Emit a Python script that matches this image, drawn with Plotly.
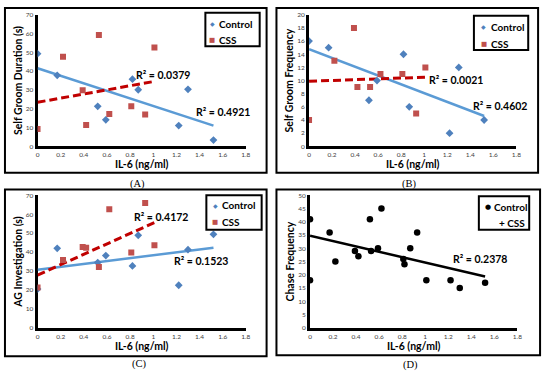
import numpy as np
import plotly.graph_objects as go

# ---------------- data ----------------
il6_control = [0.00, 0.17, 0.52, 0.59, 0.82, 0.87, 1.22, 1.30, 1.52]
il6_css = [0.00, 0.22, 0.39, 0.42, 0.53, 0.62, 0.81, 0.93, 1.01]

groom_dur_control = [49.3, 37.8, 21.3, 14.1, 35.7, 30.1, 11.0, 30.3, 3.3]
groom_dur_css = [9.2, 47.7, 29.8, 11.3, 59.2, 17.2, 21.3, 16.9, 52.6]

groom_freq_control = [16, 15, 7, 10, 14, 6, 2, 12, 4]
groom_freq_css = [4, 13, 18, 9, 9, 11, 11, 5, 12]

ag_control = [20.5, 42.0, 34.5, 38.2, 32.7, 48.9, 22.5, 41.3, 49.4]
ag_css = [21.3, 35.9, 42.7, 42.3, 32.1, 62.6, 39.8, 66.0, 43.7]

chase_control = [41, 36, 41, 30, 24, 30, 18, 15, 17]
chase_css = [18, 25, 29, 27, 29, 45, 26, 36, 18]

r2_labels = {
    "A": ["R² = 0.4921", "R² = 0.0379"],
    "B": ["R² = 0.4602", "R² = 0.0021"],
    "C": ["R² = 0.1523", "R² = 0.4172"],
    "D": ["R² = 0.2378"],
}
y_titles = ["Self Groom Duration (s)", "Self Groom Frequency", "AG Investigation (s)", "Chase Frequency"]
y_ranges = [[0, 70], [0, 20], [0, 70], [0, 50]]
y_dticks = [10, 2, 10, 5]
x_title = "IL-6 (ng/ml)"
panel_labels = ["(A)", "(B)", "(C)", "(D)"]

# ---------------- styling ----------------
W, H = 550, 375
BLUE_M = "#4F81BD"
BLUE_L = "#5B9BD5"
RED_M = "#C0504D"
RED_L = "#C00000"
FONT = "Lato"
TICKC = "#404040"


def px(x):
    return x / W


def py(y):
    return 1 - y / H


fig = go.Figure()

# plot areas in pixels (x0, x1, ytop, ybottom)
areas = [(36, 247, 11, 145), (311, 521, 11, 145), (36, 247, 195, 330), (312, 522, 195, 330)]
boxes = [(3, 4, 268, 172), (278, 4, 543, 172), (3, 189, 268, 359), (278, 189, 545, 358)]

layout = {}
for i, (x0, x1, yt, yb) in enumerate(areas):
    n = "" if i == 0 else str(i + 1)
    layout["xaxis" + n] = dict(
        domain=[px(x0), px(x1)], anchor="y" + n, range=[0, 1.8], dtick=0.2,
        showgrid=False, zeroline=False, showline=True,
        linecolor="black", linewidth=3, ticks="", layer="below traces",
        tickfont=dict(family=FONT, size=6.5, color=TICKC),
        title=dict(text=x_title, font=dict(family=FONT, size=10.5, color="black", weight="bold"), standoff=3),
        fixedrange=True,
    )
    layout["yaxis" + n] = dict(
        domain=[py(yb), py(yt)], anchor="x" + n, range=y_ranges[i], dtick=y_dticks[i],
        showgrid=False, zeroline=False, showline=True, linecolor="black", linewidth=3,
        ticks="", layer="below traces",
        tickfont=dict(family=FONT, size=6.5, color=TICKC),
        title=dict(text=y_titles[i], font=dict(family=FONT, size=10.5, color="black", weight="bold"), standoff=2),
        fixedrange=True,
    )


def trend(x, y):
    x = np.asarray(x, float)
    y = np.asarray(y, float)
    m, b = np.polyfit(x, y, 1)
    xs = np.array([x.min(), x.max()])
    return xs, m * xs + b


panels = [
    (groom_dur_control, groom_dur_css),
    (groom_freq_control, groom_freq_css),
    (ag_control, ag_css),
]
for i, (yc, ys) in enumerate(panels):
    n = "" if i == 0 else str(i + 1)
    xa, ya = "x" + n, "y" + n
    tx, ty = trend(il6_control, yc)
    fig.add_trace(go.Scatter(x=tx, y=ty, mode="lines", line=dict(color=BLUE_L, width=2.5),
                             xaxis=xa, yaxis=ya, showlegend=False, hoverinfo="skip"))
    tx, ty = trend(il6_css, ys)
    fig.add_trace(go.Scatter(x=tx, y=ty, mode="lines", line=dict(color=RED_L, width=3, dash="8px,4px"),
                             xaxis=xa, yaxis=ya, showlegend=False, hoverinfo="skip"))
    fig.add_trace(go.Scatter(x=il6_control, y=yc, mode="markers", name="Control",
                             marker=dict(symbol="diamond", size=6, color=BLUE_M),
                             xaxis=xa, yaxis=ya, showlegend=False))
    fig.add_trace(go.Scatter(x=il6_css, y=ys, mode="markers", name="CSS",
                             marker=dict(symbol="square", size=6, color=RED_M),
                             xaxis=xa, yaxis=ya, showlegend=False))

# panel D: combined
all_x = il6_control + il6_css
all_y = chase_control + chase_css
tx, ty = trend(all_x, all_y)
fig.add_trace(go.Scatter(x=tx, y=ty, mode="lines", line=dict(color="black", width=2.5),
                         xaxis="x4", yaxis="y4", showlegend=False, hoverinfo="skip"))
fig.add_trace(go.Scatter(x=all_x, y=all_y, mode="markers", name="Control + CSS",
                         marker=dict(symbol="circle", size=6.5, color="black"),
                         xaxis="x4", yaxis="y4", showlegend=False))

shapes = []
for (x0, y0, x1, y1) in boxes:
    shapes.append(dict(type="rect", xref="paper", yref="paper", x0=px(x0), x1=px(x1),
                       y0=py(y1), y1=py(y0), line=dict(color="black", width=2)))

# legend boxes
leg_boxes = [(206, 9, 261, 43), (478, 12, 533, 47), (207, 195, 263, 230), (483, 196, 534, 230)]
for (x0, y0, x1, y1) in leg_boxes:
    shapes.append(dict(type="rect", xref="paper", yref="paper", x0=px(x0), x1=px(x1),
                       y0=py(y1), y1=py(y0), line=dict(color="black", width=2), fillcolor="white",
                       layer="above"))

ann = []


def text(x, y, s, size=10.5, bold=True, xanchor="center", family=FONT, color="black"):
    ann.append(dict(x=px(x), y=py(y), xref="paper", yref="paper", text=s, showarrow=False,
                    xanchor=xanchor, yanchor="middle",
                    font=dict(family=family, size=size, color=color, weight="bold" if bold else "normal")))


# legends (A, B, C)
leg_rows = [((213, 20), (213, 37)), ((488, 23), (488, 41)), ((216, 205), (216, 222))]
for (c, s) in leg_rows:
    text(c[0], c[1], "◆", size=6, bold=False, color=BLUE_M, family="DejaVu Sans")
    text(c[0] + 5, c[1], "Control", size=10, xanchor="left")
    text(s[0], s[1], "■", size=6.5, bold=False, color=RED_M, family="DejaVu Sans")
    text(s[0] + 5, s[1], "CSS", size=10, xanchor="left")
# legend D
text(492, 207, "●", size=7, bold=False, color="black", family="DejaVu Sans")
text(496, 207, "Control", size=10, xanchor="left")
text(501, 223, "+ CSS", size=10, xanchor="left")

# R² labels
text(163, 72, r2_labels["A"][1])
text(224, 110, r2_labels["A"][0])
text(460, 77, r2_labels["B"][1])
text(504, 104, r2_labels["B"][0])
text(161, 217, r2_labels["C"][1])
text(202, 262, r2_labels["C"][0])
text(484, 260, r2_labels["D"][0])

# panel labels
for lab, (x, y) in zip(panel_labels, [(137, 183), (413, 183), (139, 367), (414, 368)]):
    text(x, y, lab, size=10.5, bold=False, family="Liberation Serif")

fig.update_layout(
    width=W, height=H, margin=dict(l=0, r=0, t=0, b=0),
    paper_bgcolor="white", plot_bgcolor="white",
    shapes=shapes, annotations=ann, showlegend=False,
    **layout,
)

fig.write_html("out.html", config={"displayModeBar": False},
               post_script="document.body.style.margin='0';")
